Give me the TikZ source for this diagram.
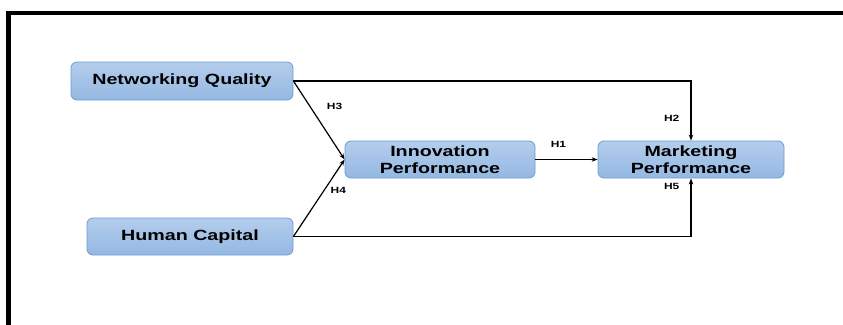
\documentclass[tikz,border=0pt]{standalone}
\usepackage{fontspec}
\setmainfont{Liberation Sans}[FakeStretch=1.33]
\usetikzlibrary{arrows.meta}

\definecolor{boxtop}{RGB}{180,205,236}
\definecolor{boxbot}{RGB}{148,184,226}
\definecolor{boxline}{RGB}{108,155,212}

\tikzset{
	var/.style={draw=boxline, line width=0.8pt, rounded corners=6pt, top color=boxtop, bottom color=boxbot,
		inner sep=0pt, align=center, font=\bfseries\fontsize{14.8}{16.5}\selectfont},
	path/.style={line width=1.2pt, -{Stealth[length=6pt,width=4.5pt]}},
	hyp/.style={font=\bfseries\fontsize{9}{10}\selectfont, inner sep=0pt}
}

\begin{document}
\begin{tikzpicture}[x=1pt, y=-1pt]
		\useasboundingbox (0, 0) rectangle (843, 324);
		\draw[line width=4.5pt] (8.5, 330) -- (8.5, 13) -- (850, 13);

		\node[var, minimum width=222pt, minimum height=38pt] (nq) at (182, 81) {\raisebox{-1pt}{Networking Quality}};
		\node[var, minimum width=206pt, minimum height=37pt] (hc) at (190, 236.5) {\raisebox{-1pt}{Human Capital}};
		\node[var, minimum width=190pt, minimum height=37pt] (ip) at (440, 159.5) {Innovation\\Performance};
		\node[var, minimum width=186pt, minimum height=37pt] (mp) at (691, 159.5) {Marketing\\Performance};

		\draw[path] (nq.east) -- node[hyp, pos=0.33, anchor=west, xshift=16pt] {H3} (ip.west);
		\draw[path] (hc.east) -- node[hyp, pos=0.6, anchor=west, xshift=6pt] {H4} (ip.west);
		\draw[path] (ip) -- node[hyp, pos=0.37, above=11pt] {H1} (mp);
		\draw[path] (nq.east) -| node[hyp, pos=0.81, left=11pt] {H2} (mp.north);
		\draw[path] (hc.east) -| node[hyp, pos=0.93, left=11pt] {H5} (mp.south);
	\end{tikzpicture}
\end{document}
